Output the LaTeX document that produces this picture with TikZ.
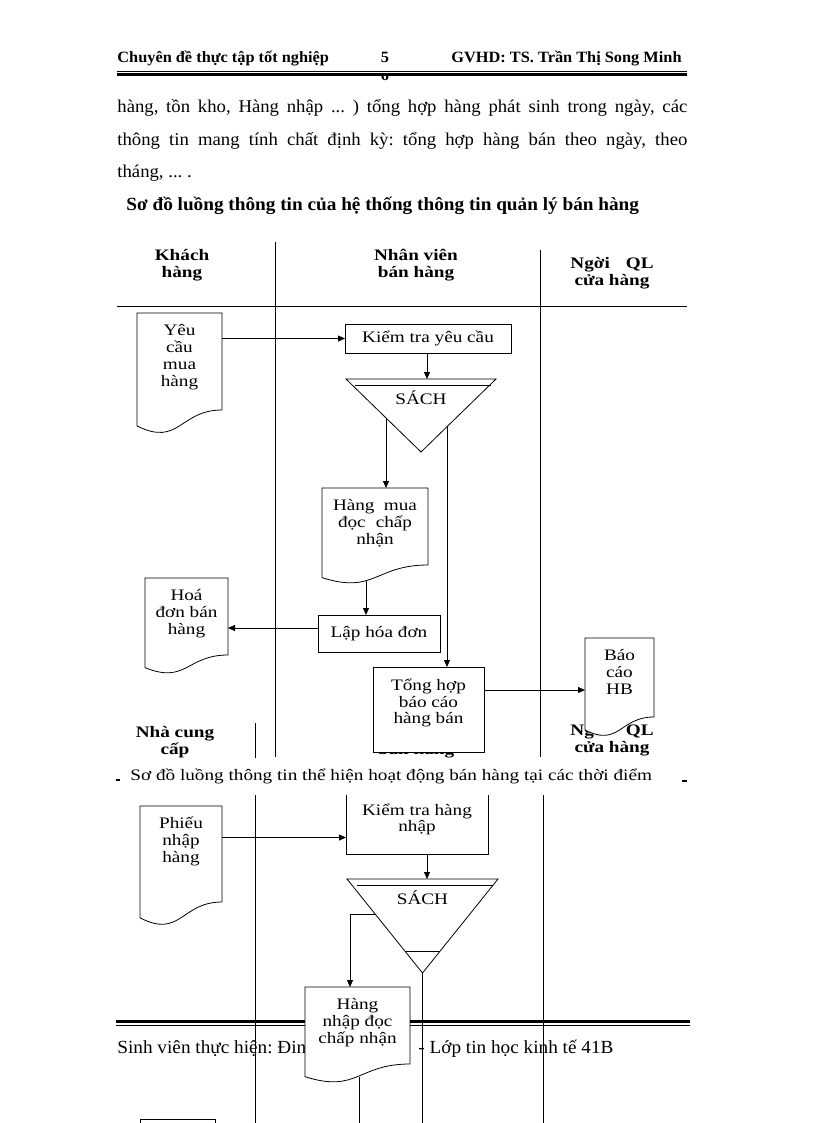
\documentclass[tikz,border=0pt]{standalone}
\usepackage{fontspec}
\setmainfont[FakeStretch=1.04]{Liberation Serif}
\newfontfamily\chartfont[FakeStretch=1.2]{Liberation Serif}
\usetikzlibrary{calc,arrows.meta}

\tikzset{
  hdr/.style={inner sep=0pt, font=\bfseries\fontsize{15.7}{17}\selectfont},
  bodyline/.style={anchor=base west, inner sep=0pt},
  lanehead/.style={align=center, inner sep=0pt, font=\chartfont\bfseries\fontsize{16}{17}\selectfont},
  procbox/.style={draw, fill=white, inner sep=1pt, outer sep=0pt, align=center,
    font=\chartfont\fontsize{16}{16.5}\selectfont},
  docbox/.style={fill=white, inner sep=0pt, outer sep=0pt},
  doctext/.style={anchor=north, align=center, inner sep=0pt, yshift=-10.5pt,
    font=\chartfont\fontsize{16}{17}\selectfont},
  flow/.style={-{Triangle[length=7pt,width=6pt]}},
}

% Wavy lower edge of a document symbol: #1 node, #2 full height.
\newcommand{\docwave}[2]{%
  \fill[white] (#1.south east) .. controls (#1.south) and ($(#1.south)+(0,0.306*#2)$)
    .. ($(#1.south west)+(0,0.132*#2)$) -- (#1.south west) -- cycle;
  \draw (#1.south west) -- (#1.north west) -- (#1.north east) -- (#1.south east)
    .. controls (#1.south) and ($(#1.south)+(0,0.306*#2)$)
    .. ($(#1.south west)+(0,0.132*#2)$) -- cycle;
}

\begin{document}
\frenchspacing
\begin{tikzpicture}[x=1pt, y=-1pt, line width=0.8pt, font=\fontsize{18}{20}\selectfont]
\useasboundingbox (0,0) rectangle (816,1123);
\fill[white] (0,0) rectangle (816,1123);

% Page header.
\node[hdr, anchor=base west] (hdrLeft) at (117,63) {Chuyên đề thực tập tốt nghiệp};
\node[hdr, anchor=base] (hdrPage) at (385,63) {5};
\begin{scope}
\clip (0,75) rectangle (816,90);
\node[hdr, anchor=base] (hdrPageB) at (385,81) {6};
\end{scope}
\node[hdr, anchor=base east] (hdrRight) at (682,63) {GVHD: TS. Trần Thị Song Minh};
\draw[line width=0.7pt] (117,71) -- (687,71);
\draw[line width=3pt] (117,74.5) -- (687,74.5);

% Text above the chart.
\node[bodyline] (body1) at (117,113)
  {\makebox[570pt][s]{hàng, tồn kho, Hàng nhập ... ) tổng hợp hàng phát sinh trong ngày, các}};
\node[bodyline] (body2) at (117,146)
  {\makebox[570pt][s]{thông tin mang tính chất định kỳ: tổng hợp hàng bán theo ngày, theo}};
\node[bodyline] (body3) at (117,178) {tháng, ... .};
\node[bodyline, font=\bfseries\fontsize{18.5}{20}\selectfont] (title) at (126,211)
  {Sơ đồ luồng thông tin của hệ thống thông tin quản lý bán hàng};

% Header of the second chart, mostly hidden.
\begin{scope}
\clip (0,0) rectangle (816,757);
\node[lanehead] (headNCC) at (175,742) {Nhà cung\\cấp};
\node[lanehead] (headNVB) at (416,742) {Nhân viên\\bán hàng};
\node[lanehead] (headQLB) at (612,740) {Ngời\hspace{1em}QL\\cửa hàng};
\draw (255,723) -- (255,760);
\end{scope}

% Lanes.
\draw (275,242) -- (275,757);
\draw (540,250) -- (540,757);
\draw (117,306) -- (687,306);
\node[lanehead] (headKH) at (182,265.5) {Khách\\hàng};
\node[lanehead] (headNV) at (416,265.5) {Nhân viên\\bán hàng};
\node[lanehead] (headQL) at (612,273.5) {Ngời\hspace{1em}QL\\cửa hàng};

% Sales chart.
\node[docbox, minimum width=85, minimum height=97, anchor=north west,
  label={[doctext]north:Yêu\\cầu\\mua\\hàng}] (docYeuCau) at (137,313) {};
\docwave{docYeuCau}{121}
\node[procbox, minimum width=166, minimum height=29] (kiemTra) at (428,338.5) {Kiểm tra yêu cầu};
\draw[flow] (kiemTra.west -| docYeuCau.east) -- (kiemTra.west);

\coordinate (tri1) at (421,379);
\draw[fill=white] ($(tri1)+(-75,0)$) -- ($(tri1)+(75,0)$) -- ($(tri1)+(0,73)$) -- cycle;
\draw ($(tri1)+(-66,6)$) -- ($(tri1)+(70,6)$);
\node[font=\chartfont\fontsize{16}{16.5}\selectfont] (sach1) at ($(tri1)+(0,19)$) {SÁCH};
\coordinate (tri1L) at ($(tri1)+(-35,39)$);
\coordinate (tri1R) at ($(tri1)+(26,48)$);
\draw[flow] (kiemTra.south -| tri1L) ++(41,0) -- ($(tri1)+(6,0)$);

\node[docbox, minimum width=106, minimum height=77, anchor=north west,
  label={[doctext]north:\makebox[84pt][s]{Hàng mua}\\\makebox[74pt][s]{đọc chấp}\\nhận}]
  (docHangMua) at (322,488) {};
\docwave{docHangMua}{96}
\draw[flow] (tri1L) -- (tri1L |- docHangMua.north);

\node[procbox, minimum width=122, minimum height=37] (lapHD) at (379,633.5) {Lập hóa đơn};
\coordinate (hmOut) at ($(docHangMua.south west)+(44,15.5)$);
\draw[flow] (hmOut) -- (hmOut |- lapHD.north);

\node[docbox, minimum width=83, minimum height=77, anchor=north west,
  label={[doctext]north:Hoá\\đơn bán\\hàng}] (docHoaDon) at (145,578) {};
\docwave{docHoaDon}{96}
\draw[flow] ([yshift=5.5pt]lapHD.west) -- ([yshift=5.5pt]lapHD.west -| docHoaDon.east);

\node[procbox, minimum width=111, minimum height=85] (tongHop) at (428.5,709.5)
  {Tổng hợp\\báo cáo\\hàng bán\\\mbox{}};
\draw[flow] (tri1R) -- (tri1R |- tongHop.north);

\node[docbox, minimum width=69, minimum height=79, anchor=north west,
  label={[doctext]north:Báo\\cáo\\HB}] (docBaoCao) at (585,638) {};
\docwave{docBaoCao}{99}
\draw[flow] ([yshift=19.5pt]tongHop.east) -- ([yshift=19.5pt]tongHop.east -| docBaoCao.west);

% Caption line.
\node[bodyline, font=\chartfont\fontsize{16}{17}\selectfont] (caption) at (130,780)
  {Sơ đồ luồng thông tin thể hiện hoạt động bán hàng tại các thời điểm};
\draw[line width=1.2pt] (116,780) -- (120,780);
\draw[line width=1.2pt] (682,781) -- (687,781);

% Page footer.
\draw[line width=3.5pt] (116,1021.5) -- (690,1021.5);
\draw[line width=0.7pt] (116,1025.5) -- (690,1025.5);
\node[bodyline, font=\fontsize{18.5}{20}\selectfont] (footLeft) at (117,1053) {Sinh viên thực hiện: Đin};
\node[bodyline, font=\fontsize{18.5}{20}\selectfont] (footRight) at (418,1053) {- Lớp tin học kinh tế 41B};

% Purchase chart.
\begin{scope}
\clip (0,795) rectangle (816,1123);
\coordinate (pageEnd) at (0,1130);
\draw (255,780) -- (255,1130);
\draw (543,780) -- (543,1130);

\node[procbox, minimum width=142, minimum height=69] (kiemTraHN) at (417,819.5) {Kiểm tra hàng\\nhập};
\node[docbox, minimum width=82, minimum height=96, anchor=north west,
  label={[doctext]north:Phiếu\\nhập\\hàng}] (docPhieu) at (140,806) {};
\docwave{docPhieu}{120}
\draw[flow] ([yshift=-18pt]kiemTraHN.west -| docPhieu.east) -- ([yshift=-18pt]kiemTraHN.west);

\coordinate (tri2) at (422.5,879);
\draw[flow] ([xshift=10pt]kiemTraHN.south) -- ([xshift=10pt]kiemTraHN.south |- tri2);
\draw[fill=white] ($(tri2)+(-75.5,0)$) -- ($(tri2)+(75.5,0)$) -- ($(tri2)+(0,94)$) -- cycle;
\draw ($(tri2)+(-66,6)$) -- ($(tri2)+(70,6)$);
\draw ($(tri2)+(-17.7,72)$) -- ($(tri2)+(17.7,72)$);
\node[font=\chartfont\fontsize{16}{16.5}\selectfont] (sach2) at ($(tri2)+(0,19)$) {SÁCH};
\coordinate (tri2L) at ($(tri2)+(-47.4,35)$);
\coordinate (tri2B) at ($(tri2)+(0,94)$);
\draw (tri2B) -- (tri2B |- pageEnd);

\node[docbox, minimum width=105, minimum height=77, anchor=north west,
  label={[doctext]north:Hàng\\nhập đọc\\chấp nhận}] (docHangNhap) at (305,987) {};
\docwave{docHangNhap}{96}
\draw[flow] (tri2L) -| ([xshift=-7.5pt]docHangNhap.north);
\coordinate (hnOut) at ($(docHangNhap.south west)+(54,13)$);
\draw (hnOut) -- (hnOut |- pageEnd);

\node[procbox, minimum width=75, minimum height=40, anchor=north west] (nextBox) at (140,1119) {};
\end{scope}
\end{tikzpicture}
\end{document}
